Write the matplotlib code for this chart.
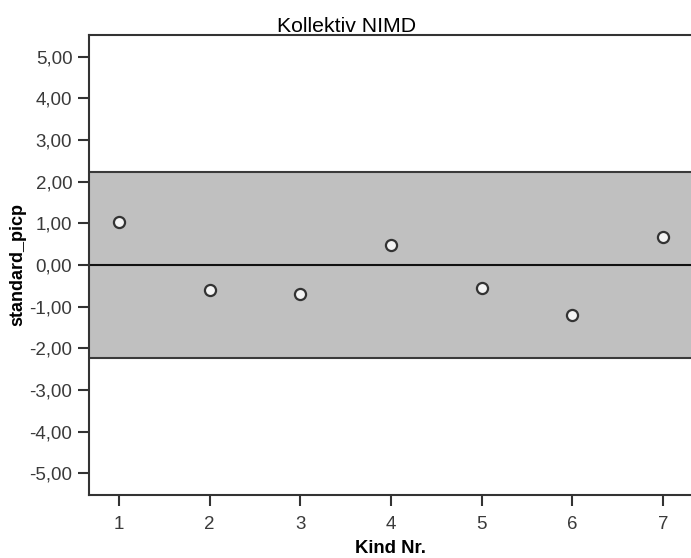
import numpy as np
import matplotlib
matplotlib.use("Agg")
import matplotlib.pyplot as plt

plt.rcParams["font.family"] = ["Liberation Sans", "DejaVu Sans"]

# data
kind_nr = [1, 2, 3, 4, 5, 6, 7]
standard_picp = [1.04, -0.60, -0.70, 0.49, -0.56, -1.20, 0.68]
band_limit = 2.23
y_ticks = [5, 4, 3, 2, 1, 0, -1, -2, -3, -4, -5]

W, H = 691, 558
fig = plt.figure(figsize=(W / 100, H / 100), dpi=100)
ax = fig.add_axes([0.1288, 0.1129, 0.8712, 0.8244])

ax.axhspan(-band_limit, band_limit, color="#c0c0c0", lw=0, zorder=1)
for yy in (-band_limit, band_limit):
    ax.axhline(yy, color="#3a3a3a", lw=1.5, zorder=2)
ax.axhline(0, color="#111111", lw=1.5, zorder=2)

ax.plot(kind_nr, standard_picp, "o", ms=8, mfc="#f4f4f4", mec="#333333",
        mew=1.6, zorder=3)

ax.set_xlim(0.67, 7.31)
ax.set_ylim(-5.52, 5.52)
ax.set_xticks(kind_nr)
ax.set_yticks(y_ticks)
ax.set_yticklabels([f"{v:.2f}".replace(".", ",") for v in y_ticks])

ax.tick_params(direction="out", length=8, width=1.5, color="#333333",
               labelsize=13.5, labelcolor="#3a3a3a")
ax.tick_params(axis="x", pad=7)
ax.tick_params(axis="y", pad=4)
for side in ("left", "bottom", "top"):
    ax.spines[side].set_linewidth(1.5)
    ax.spines[side].set_color("#333333")
ax.spines["right"].set_visible(False)

# title sits off-centre in the (cropped) original
fig.text(347 / W, 1 - 32 / H, "Kollektiv NIMD", fontsize=15.3,
         ha="center", va="baseline")
ax.set_xlabel("Kind Nr.", fontsize=13.3, fontweight="bold", labelpad=5)
ax.set_ylabel("standard_picp", fontsize=13, fontweight="bold", labelpad=2)

fig.savefig("out.png", dpi=100)
